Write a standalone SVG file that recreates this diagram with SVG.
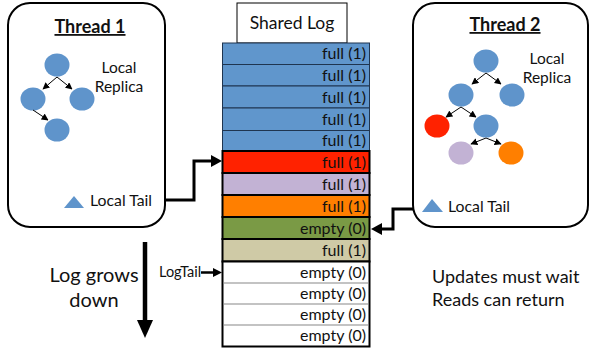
<svg xmlns="http://www.w3.org/2000/svg" width="590" height="351" viewBox="0 0 590 351">
<defs>
<style>
text{font-family:Lato,"Open Sans","Liberation Sans",sans-serif;fill:#111}
.title{font-size:18px;font-weight:bold;text-decoration:underline;text-anchor:middle}
.lbl{font-size:15.5px;text-anchor:middle}
.cell{font-size:16px;text-anchor:end}
.big{font-size:20px;text-anchor:middle}
.note{font-size:18px}
.tail{font-size:15.8px}
.box{fill:#fff;stroke:#000;stroke-width:2}
.node{stroke:none}
.tree{stroke:#000;stroke-width:1;fill:none;marker-end:url(#sa)}
.conn{stroke:#000;stroke-width:3;fill:none}
</style>
<marker id="sa" viewBox="0 0 10 10" refX="9" refY="5" markerWidth="7" markerHeight="7" markerUnits="userSpaceOnUse" orient="auto"><path d="M0,0L10,5L0,10z" fill="#000"/></marker>
</defs>
<g id="thread1">
<rect class="box" x="8" y="3" width="157" height="224" rx="22"/>
<text class="title" x="90" y="33">Thread 1</text>
<g class="node" fill="#5F94CB">
<ellipse cx="57" cy="65" rx="12.5" ry="11.5"/>
<ellipse cx="33" cy="99" rx="12.5" ry="11.5"/>
<ellipse cx="82" cy="99" rx="12.5" ry="11.5"/>
<ellipse cx="57" cy="130" rx="12.5" ry="11.5"/>
</g>
<path class="tree" d="M57,77L43,89"/>
<path class="tree" d="M57,77L72,89"/>
<path class="tree" d="M33,110L48,120"/>
<text class="lbl" x="119" y="73">Local</text>
<text class="lbl" x="119" y="92">Replica</text>
<path d="M64,208L74,196L84,208z" fill="#5F94CB"/>
<text class="tail" x="90" y="206">Local Tail</text>
</g>
<g id="thread2">
<rect class="box" x="413" y="3" width="175" height="224" rx="22"/>
<text class="title" x="505" y="31">Thread 2</text>
<g class="node">
<ellipse cx="486" cy="61" rx="12.5" ry="11.5" fill="#5F94CB"/>
<ellipse cx="461" cy="95" rx="12.5" ry="11.5" fill="#5F94CB"/>
<ellipse cx="512" cy="95" rx="12.5" ry="11.5" fill="#5F94CB"/>
<ellipse cx="437" cy="126" rx="12.5" ry="11.5" fill="#FF2200"/>
<ellipse cx="486" cy="126" rx="12.5" ry="11.5" fill="#5F94CB"/>
<ellipse cx="461" cy="153" rx="12.5" ry="11.5" fill="#C2B2D4"/>
<ellipse cx="511" cy="153" rx="12.5" ry="11.5" fill="#FF7F00"/>
</g>
<path class="tree" d="M486,73L472,84"/>
<path class="tree" d="M486,73L501,84"/>
<path class="tree" d="M461,107L446,117"/>
<path class="tree" d="M461,107L476,117"/>
<path class="tree" d="M486,138L471,144"/>
<path class="tree" d="M486,138L501,144"/>
<text class="lbl" x="547" y="64">Local</text>
<text class="lbl" x="547" y="83">Replica</text>
<path d="M422,212L432,199L443,212z" fill="#5F94CB"/>
<text class="tail" x="448" y="212">Local Tail</text>
</g>
<g id="shared-log">
<rect x="237" y="3" width="110" height="40" fill="#fff" stroke="#000" stroke-width="1"/>
<text x="292" y="29" style="font-size:17.5px;text-anchor:middle">Shared Log</text>
<g stroke="#1F3550" stroke-width="1">
<rect x="222.5" y="43" width="147" height="21.5" fill="#6096CC"/>
<rect x="222.5" y="64.5" width="147" height="21.5" fill="#6096CC"/>
<rect x="222.5" y="86" width="147" height="22" fill="#6096CC"/>
<rect x="222.5" y="108" width="147" height="22.5" fill="#6096CC"/>
<rect x="222.5" y="130.5" width="147" height="20.5" fill="#6096CC"/>
</g>
<g stroke="#000" stroke-width="2">
<rect x="222.5" y="151" width="147" height="22" fill="#FF2200"/>
<rect x="222.5" y="173" width="147" height="22" fill="#C2B2D4"/>
<rect x="222.5" y="195" width="147" height="22" fill="#FF7F00"/>
<rect x="222.5" y="217" width="147" height="22" fill="#7A9A45"/>
<rect x="222.5" y="239" width="147" height="22.5" fill="#CFCAA6"/>
</g>
<rect x="222.5" y="261.5" width="147" height="85" fill="#fff" stroke="#000" stroke-width="2"/>
<g stroke="#888" stroke-width="1.2">
<path d="M223.5,283H368.5M223.5,304H368.5M223.5,325H368.5"/>
</g>
<g class="cells">
<text class="cell" x="366" y="59">full (1)</text>
<text class="cell" x="366" y="81">full (1)</text>
<text class="cell" x="366" y="103">full (1)</text>
<text class="cell" x="366" y="125">full (1)</text>
<text class="cell" x="366" y="146">full (1)</text>
<text class="cell" x="366" y="168">full (1)</text>
<text class="cell" x="366" y="190">full (1)</text>
<text class="cell" x="366" y="212">full (1)</text>
<text class="cell" x="366" y="234">empty (0)</text>
<text class="cell" x="366" y="256">full (1)</text>
<text class="cell" x="366" y="278">empty (0)</text>
<text class="cell" x="366" y="299">empty (0)</text>
<text class="cell" x="366" y="320">empty (0)</text>
<text class="cell" x="366" y="341">empty (0)</text>
</g>
</g>
<g id="connectors">
<path class="conn" d="M165,200H194V161H212"/>
<path d="M211,155L222,161L211,167z" fill="#000"/>
<path class="conn" d="M413,209H393V229H381"/>
<path d="M382,223L371,229L382,235z" fill="#000"/>
<path stroke="#000" stroke-width="2.5" d="M201,272.5H214"/>
<path d="M213,268L222,272.5L213,277z" fill="#000"/>
<path stroke="#000" stroke-width="4.5" d="M145,242V322"/>
<path d="M137,320L145,338L153,320z" fill="#000"/>
</g>
<g id="labels">
<text x="159" y="277" style="font-size:14.5px">LogTail</text>
<text class="big" x="94" y="282">Log grows</text>
<text class="big" x="94" y="307">down</text>
<text class="note" x="432" y="283">Updates must wait</text>
<text class="note" x="432" y="306">Reads can return</text>
</g>
</svg>
